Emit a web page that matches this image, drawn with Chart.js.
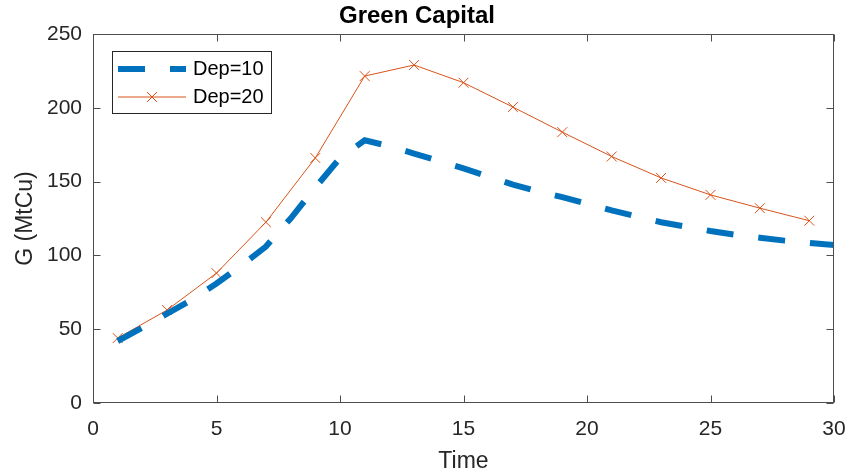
<!DOCTYPE html>
<html>
<head>
<meta charset="utf-8">
<title>Green Capital</title>
<script src="https://cdn.jsdelivr.net/npm/chart.js@4.4.1/dist/chart.umd.min.js"></script>
<style>
  html, body { margin: 0; padding: 0; background: #fff; }
</style>
</head>
<body>
<canvas id="greenCapitalChart" width="851" height="475"></canvas>
<script>
// Dep=10 is sampled every year, Dep=20 every second year
const timeDep10 = [1, 2, 3, 4, 5, 6, 7, 8, 9, 10, 11, 12, 13, 14, 15,
  16, 17, 18, 19, 20, 21, 22, 23, 24, 25, 26, 27, 28, 29, 30];
const gDep10 = [42, 51, 60.5, 70, 81, 93, 106, 125, 146, 166, 178, 174, 169, 164, 159,
  153.5, 148, 143.5, 139.5, 135, 130.5, 126.5, 122.5, 119.5, 116.5, 114, 112, 110, 108.5, 107];
const timeDep20 = [1, 3, 5, 7, 9, 11, 13, 15, 17, 19, 21, 23, 25, 27, 29];
const gDep20 = [44, 63, 88, 122.5, 166, 221.5, 229, 217, 200.5, 183.5, 167, 152.5, 141, 132, 123.5];
const xTicks = [0, 5, 10, 15, 20, 25, 30];
const yTicks = [0, 50, 100, 150, 200, 250];
const seriesLabels = ['Dep=10', 'Dep=20'];

const BLUE = '#0072BD';
const RED = '#D95319';
const INK = '#262626';
const FONT = 'Arial, "Liberation Sans", sans-serif';

function toPoints(xs, ys) {
  return xs.map((x, i) => ({ x: x, y: ys[i] }));
}

// box round the plot with inward ticks on all four sides, like MATLAB
const matlabAxes = {
  id: 'matlabAxes',
  afterDatasetsDraw(chart) {
    const { ctx, chartArea: a, scales } = chart;
    const L = Math.round(a.left) + 0.5, R = Math.round(a.right) - 0.5;
    const T = Math.round(a.top) + 0.5, B = Math.round(a.bottom) - 0.5;
    const tl = 7;
    ctx.save();
    ctx.strokeStyle = '#4d4d4d';
    ctx.lineWidth = 1;
    ctx.setLineDash([]);
    ctx.strokeRect(L, T, R - L, B - T);
    ctx.beginPath();
    scales.x.ticks.forEach(t => {
      const px = Math.round(scales.x.getPixelForValue(t.value)) + 0.5;
      ctx.moveTo(px, B); ctx.lineTo(px, B - tl);
      ctx.moveTo(px, T); ctx.lineTo(px, T + tl);
    });
    scales.y.ticks.forEach(t => {
      const py = Math.round(scales.y.getPixelForValue(t.value)) + 0.5;
      ctx.moveTo(L, py); ctx.lineTo(L + tl, py);
      ctx.moveTo(R, py); ctx.lineTo(R - tl, py);
    });
    ctx.stroke();
    ctx.restore();
  }
};

// legend box in the top-left corner
const matlabLegend = {
  id: 'matlabLegend',
  afterDraw(chart) {
    const ctx = chart.ctx;
    const bx = 112.5, by = 51.5, bw = 159, bh = 62;
    const x0 = 118, x1 = 186, row1 = 69, row2 = 97;
    ctx.save();
    ctx.fillStyle = '#fff';
    ctx.fillRect(bx, by, bw, bh);
    ctx.strokeStyle = INK;
    ctx.lineWidth = 1;
    ctx.strokeRect(bx, by, bw, bh);

    ctx.beginPath();
    ctx.strokeStyle = BLUE;
    ctx.lineWidth = 6;
    ctx.setLineDash([27, 25]);
    ctx.moveTo(x0, row1); ctx.lineTo(x1, row1);
    ctx.stroke();

    ctx.setLineDash([]);
    ctx.beginPath();
    ctx.strokeStyle = RED;
    ctx.lineWidth = 1;
    ctx.moveTo(x0, row2); ctx.lineTo(x1, row2);
    const mx = 152, m = 5;
    ctx.moveTo(mx - m, row2 - m); ctx.lineTo(mx + m, row2 + m);
    ctx.moveTo(mx - m, row2 + m); ctx.lineTo(mx + m, row2 - m);
    ctx.stroke();

    ctx.fillStyle = '#000';
    ctx.font = '20px ' + FONT;
    ctx.textAlign = 'left';
    ctx.textBaseline = 'middle';
    ctx.fillText(seriesLabels[0], 193, row1);
    ctx.fillText(seriesLabels[1], 193, row2);
    ctx.restore();
  }
};

new Chart(document.getElementById('greenCapitalChart'), {
  type: 'line',
  data: {
    datasets: [{
      label: seriesLabels[0],
      data: toPoints(timeDep10, gDep10),
      borderColor: BLUE,
      borderWidth: 6,
      borderDash: [27, 25],
      borderJoinStyle: 'miter',
      pointRadius: 0,
      tension: 0
    }, {
      label: seriesLabels[1],
      data: toPoints(timeDep20, gDep20),
      borderColor: RED,
      borderWidth: 1,
      pointStyle: 'crossRot',
      pointRadius: 7,
      pointBorderWidth: 1,
      pointBorderColor: RED,
      pointBackgroundColor: RED,
      tension: 0
    }]
  },
  options: {
    responsive: false,
    animation: false,
    layout: { padding: { left: 0, right: 17, top: 0, bottom: 0 } },
    plugins: {
      legend: { display: false },
      tooltip: { enabled: false },
      title: {
        display: true,
        text: 'Green Capital',
        color: '#000',
        font: { family: FONT, size: 24, weight: 'bold' },
        padding: { top: 2, bottom: 3.2 }
      }
    },
    scales: {
      x: {
        type: 'linear',
        min: 0,
        max: 30,
        afterBuildTicks: s => { s.ticks = xTicks.map(v => ({ value: v })); },
        afterFit: s => { s.height = 72; s.paddingLeft = 0; s.paddingRight = 0; },
        grid: { display: false, drawTicks: false },
        border: { display: false },
        ticks: { color: INK, padding: 13.4, maxRotation: 0, font: { family: FONT, size: 21 } },
        title: {
          display: true,
          text: 'Time',
          color: INK,
          padding: { top: 0, bottom: 0 },
          font: { family: FONT, size: 23 }
        }
      },
      y: {
        min: 0,
        max: 250,
        afterBuildTicks: s => { s.ticks = yTicks.map(v => ({ value: v })); },
        afterFit: s => { s.width = 93; s.paddingTop = 0; s.paddingBottom = 0; },
        grid: { display: false, drawTicks: false },
        border: { display: false },
        ticks: { color: INK, padding: 11, font: { family: FONT, size: 21 } },
        title: {
          display: true,
          text: 'G (MtCu)',
          color: INK,
          padding: { top: 12, bottom: 0 },
          font: { family: FONT, size: 23 }
        }
      }
    }
  },
  plugins: [matlabAxes, matlabLegend]
});
</script>
</body>
</html>
